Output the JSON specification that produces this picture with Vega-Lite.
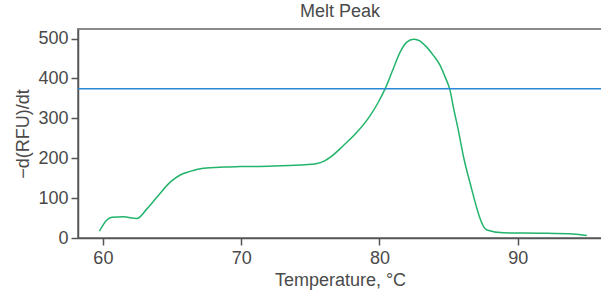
{
  "$schema": "https://vega.github.io/schema/vega-lite/v6.json",
  "autosize": "none",
  "width": 524,
  "height": 209,
  "padding": {"left": 78, "top": 29, "right": 0, "bottom": 54},
  "background": "white",
  "config": {
    "font": "Liberation Sans",
    "view": {"stroke": "#8a8a8a", "strokeWidth": 2},
    "axis": {
      "grid": false,
      "domainColor": "#555555",
      "domainWidth": 1.5,
      "tickColor": "#555555",
      "tickWidth": 1.5,
      "tickSize": 7,
      "labelFontSize": 18,
      "labelColor": "#4a4a4a",
      "titleFontSize": 18,
      "titleFontWeight": "normal",
      "titleColor": "#4a4a4a"
    }
  },
  "title": {
    "text": "Melt Peak",
    "fontSize": 18,
    "fontWeight": "normal",
    "color": "#4a4a4a",
    "anchor": "middle",
    "offset": 8
  },
  "datasets": {
    "curve": [
      {"t": 59.75, "v": 17},
      {"t": 60.29, "v": 45},
      {"t": 60.65, "v": 52},
      {"t": 61.49, "v": 53},
      {"t": 62.46, "v": 49},
      {"t": 63.18, "v": 73},
      {"t": 63.9, "v": 102},
      {"t": 64.87, "v": 140},
      {"t": 65.59, "v": 158},
      {"t": 66.31, "v": 167},
      {"t": 67.27, "v": 175},
      {"t": 68.72, "v": 178},
      {"t": 69.93, "v": 179},
      {"t": 72.0, "v": 180},
      {"t": 74.27, "v": 183},
      {"t": 75.5, "v": 187},
      {"t": 76.07, "v": 194},
      {"t": 76.43, "v": 202},
      {"t": 77.4, "v": 232},
      {"t": 78.37, "v": 265},
      {"t": 79.33, "v": 307},
      {"t": 79.93, "v": 341},
      {"t": 80.41, "v": 374},
      {"t": 81.01, "v": 425},
      {"t": 81.5, "v": 466},
      {"t": 81.98, "v": 491},
      {"t": 82.46, "v": 498},
      {"t": 82.82, "v": 496},
      {"t": 83.3, "v": 483},
      {"t": 83.9, "v": 458},
      {"t": 84.39, "v": 433},
      {"t": 84.75, "v": 404},
      {"t": 85.11, "v": 370},
      {"t": 85.35, "v": 328},
      {"t": 85.71, "v": 270},
      {"t": 86.12, "v": 198},
      {"t": 86.51, "v": 144},
      {"t": 87.77, "v": 20},
      {"t": 88.97, "v": 13},
      {"t": 91.62, "v": 12},
      {"t": 94.03, "v": 10},
      {"t": 95.0, "v": 6}
    ],
    "threshold": [{"v": 374}]
  },
  "layer": [
    {
      "data": {"name": "curve"},
      "mark": {"type": "line", "color": "#22b46b", "strokeWidth": 1.5, "interpolate": "monotone", "clip": true},
      "encoding": {
        "x": {
          "field": "t",
          "type": "quantitative",
          "scale": {"domain": [58.2, 96.1], "nice": false, "zero": false},
          "axis": {"values": [60, 70, 80, 90], "title": "Temperature, °C", "labelPadding": 4, "titlePadding": 4}
        },
        "y": {
          "field": "v",
          "type": "quantitative",
          "scale": {"domain": [0, 524], "nice": false},
          "axis": {"values": [0, 100, 200, 300, 400, 500], "title": "−d(RFU)/dt", "labelPadding": 3, "titlePadding": 5}
        }
      }
    },
    {
      "data": {"name": "threshold"},
      "mark": {"type": "rule", "color": "#2b88d6", "strokeWidth": 1.5},
      "encoding": {
        "y": {"field": "v", "type": "quantitative"}
      }
    }
  ]
}
